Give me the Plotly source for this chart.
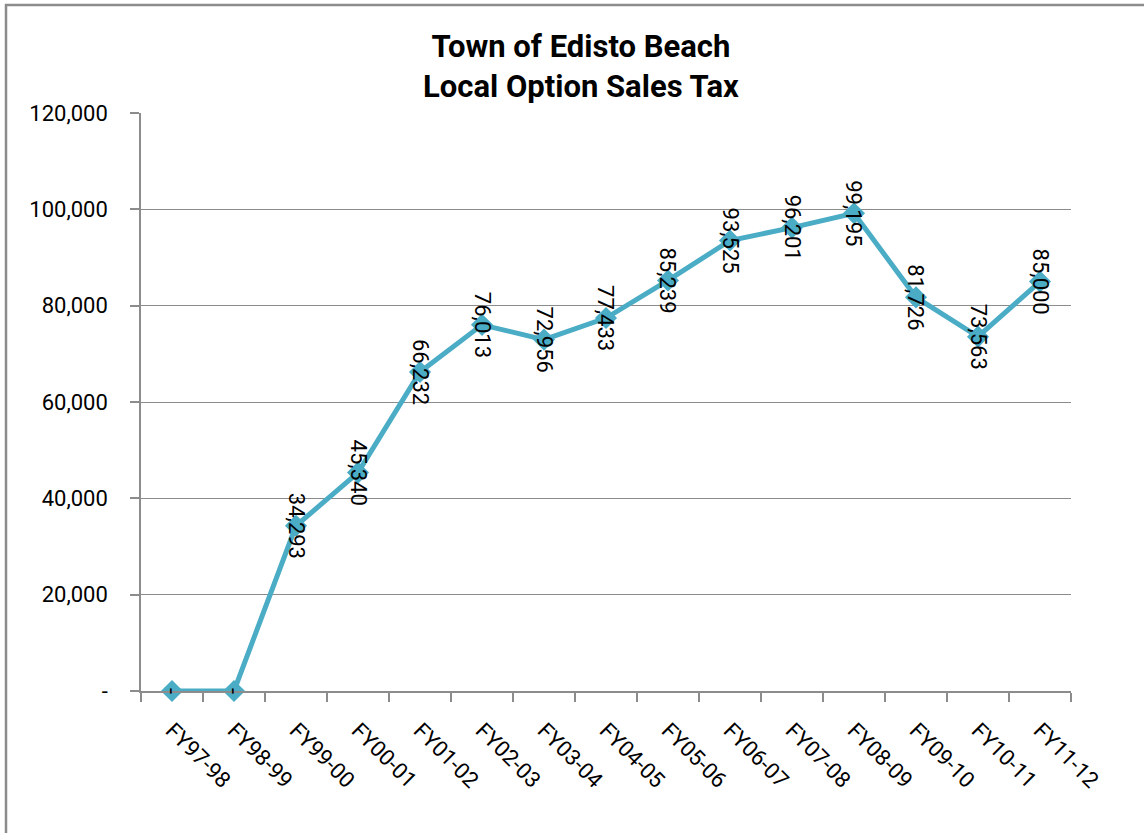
import plotly.graph_objects as go

categories = ["FY97-98", "FY98-99", "FY99-00", "FY00-01", "FY01-02", "FY02-03", "FY03-04",
              "FY04-05", "FY05-06", "FY06-07", "FY07-08", "FY08-09", "FY09-10", "FY10-11", "FY11-12"]
values = [0, 0, 34293, 45340, 66232, 76013, 72956, 77433, 85239, 93525, 96201, 99195, 81726, 73563, 85000]
y_tickvals = [0, 20000, 40000, 60000, 80000, 100000, 120000]
y_ticktext = ["-", "20,000", "40,000", "60,000", "80,000", "100,000", "120,000"]

FONT = "Roboto, Arial, sans-serif"
LINE_COLOR = "#4BACC6"
GRID = "#8C8C8C"

fig = go.Figure()
fig.add_trace(go.Scatter(
    x=categories, y=values, mode="lines+markers",
    line=dict(color=LINE_COLOR, width=5),
    marker=dict(symbol="diamond", size=17, color=LINE_COLOR),
    showlegend=False, hoverinfo="skip", cliponaxis=False,
))

def fmt(v):
    return "-" if v == 0 else f"{v:,}"

for c, v in zip(categories, values):
    fig.add_annotation(x=c, y=v, xref="x", yref="y", text=fmt(v), textangle=90,
                       showarrow=False, font=dict(family=FONT, size=22, color="#000000"),
                       xanchor="center", yanchor="middle")

# title
fig.add_annotation(x=(581 - 141) / 930, xref="paper", y=(691 - 67) / 578, yref="paper",
                   xanchor="center", yanchor="middle", showarrow=False,
                   text="<b>Town of Edisto Beach<br>Local Option Sales Tax</b>",
                   font=dict(family=FONT, size=31, color="#000000"))

# outer chart frame (left and top edges visible)
fig.add_shape(type="rect", xref="paper", yref="paper",
              x0=(6 - 141) / 930, x1=(1180 - 141) / 930,
              y0=(691 - 870) / 578, y1=(691 - 5) / 578,
              line=dict(color="#8C8C8C", width=2.5), fillcolor="rgba(0,0,0,0)", layer="below")

fig.update_layout(
    width=1144, height=833,
    margin=dict(l=141, r=73, t=113, b=142),
    paper_bgcolor="white", plot_bgcolor="white",
    font=dict(family=FONT, size=22, color="#000000"),
    xaxis=dict(type="category", showgrid=False, showline=True, linecolor=GRID, linewidth=1.5,
               ticks="outside", tickson="boundaries", ticklen=9, tickcolor=GRID, tickwidth=1.5,
               tickangle=45, tickfont=dict(family=FONT, size=22), ticklabelstandoff=16,
               range=[-0.5, len(categories) - 0.5], fixedrange=True),
    yaxis=dict(range=[0, 120000], tickvals=y_tickvals, ticktext=y_ticktext,
               showgrid=True, gridcolor=GRID, gridwidth=1,
               showline=True, linecolor=GRID, linewidth=1.5,
               ticks="outside", ticklen=9, tickcolor=GRID, tickwidth=1.5,
               tickfont=dict(family=FONT, size=22), ticklabelstandoff=18,
               zeroline=False, fixedrange=True),
)

fig.write_html("out.html")
